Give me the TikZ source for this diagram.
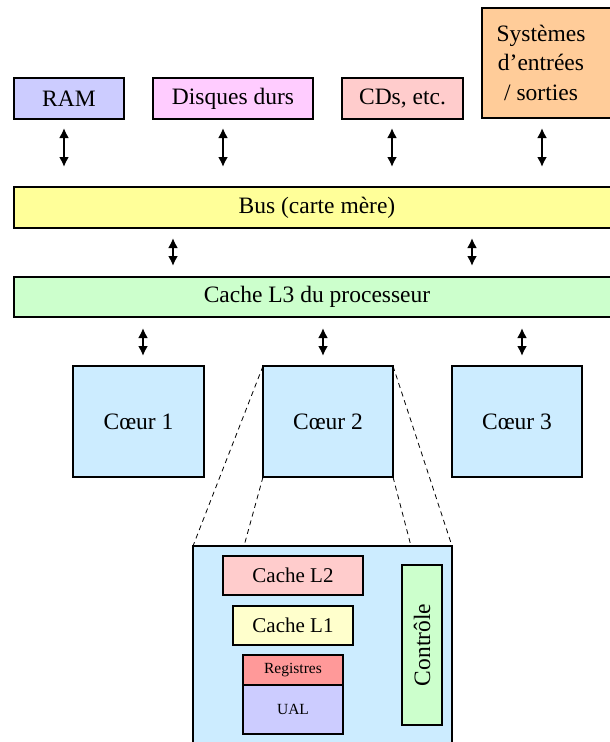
\documentclass[tikz,border=0pt]{standalone}
\usepackage{fontspec}
\setmainfont{Liberation Serif}
\usetikzlibrary{calc,shapes,arrows.meta}
\definecolor{RamBlue}{RGB}{204,204,255}
\definecolor{DiskPink}{RGB}{255,204,255}
\definecolor{CdRose}{RGB}{255,204,204}
\definecolor{IoOrange}{RGB}{255,204,153}
\definecolor{BusYellow}{RGB}{255,255,153}
\definecolor{CacheGreen}{RGB}{204,255,204}
\definecolor{CoreBlue}{RGB}{204,236,255}
\definecolor{LOneYellow}{RGB}{255,255,204}
\definecolor{RegRed}{RGB}{255,153,153}

\begin{document}
\begin{tikzpicture}[x=1pt,y=-1pt]
				\tikzstyle{box} = [rectangle, draw=black, line width=1.8pt, inner sep=0pt, outer sep=0pt, text centered, font=\fontsize{23.5}{29.5}\selectfont]
				\tikzstyle{cachebox} = [box, minimum height=39pt, font=\fontsize{21}{25}\selectfont]
				\tikzstyle{small} = [font=\fontsize{15.5}{18}\selectfont]
				\tikzstyle{arrow} = [line width=2pt, <->, >={Latex[length=10pt,width=10pt]}]
				\tikzstyle{zoomline} = [line width=0.8pt, dash pattern=on 5pt off 4pt]
				
				\useasboundingbox (0,0) rectangle (610,742);
				\node (ram) [box, fill=RamBlue, minimum width=110pt, minimum height=41pt] at (69,98.5) {RAM};
				\node (disks) [box, fill=DiskPink, minimum width=160pt, minimum height=41pt] at (233,98.5) {Disques durs};
				\node (cds) [box, fill=CdRose, minimum width=121pt, minimum height=41pt] at (402.5,98.5) {CDs, etc.};
				\node (io) [box, fill=IoOrange, minimum width=145pt, minimum height=110pt] at (554.5,63) {};
				\node (iotext) [box, draw=none, align=center] at (541,62.5) {Systèmes\\d’entrées\\/ sorties};
				\node (bus) [box, fill=BusYellow, minimum width=606pt, minimum height=41pt] at (317,207.5) {Bus (carte mère)};
				\node (cache) [box, fill=CacheGreen, minimum width=606pt, minimum height=40pt] at (317,297) {Cache L3 du processeur};
				\node (core1) [box, fill=CoreBlue, minimum width=131pt, minimum height=111pt] at (138.5,421.5) {Cœur 1};
				\node (core2) [box, fill=CoreBlue, minimum width=130pt, minimum height=111pt] at (328,421.5) {Cœur 2};
				\node (core3) [box, fill=CoreBlue, minimum width=130pt, minimum height=111pt] at (517,421.5) {Cœur 3};
				\node (core2zoom) [box, fill=CoreBlue, minimum width=259pt, minimum height=206pt] at (322.5,649) {};
				\node (cachetwo) [cachebox, fill=CdRose, minimum width=140pt] at (293,575.5) {Cache L2};
				\node (cacheone) [cachebox, fill=LOneYellow, minimum width=120pt] at (293,625.5) {Cache L1};
				\node (regs) [box, small, fill=RegRed, minimum width=100pt, minimum height=30pt] at (293,670) {Registres};
				\node (alu) [box, small, fill=RamBlue, minimum width=100pt, minimum height=49pt] at (293,709.5) {UAL};
				\node (ctrl) [box, fill=CacheGreen, rotate=90, minimum width=160pt, minimum height=40pt] at (422,645) {Contrôle};
				\draw [arrow, shorten <=9pt, shorten >=20pt] ([xshift=-5pt]ram.south) -- ([xshift=-5pt]ram.south |- bus.north);
				\draw [arrow, shorten <=9pt, shorten >=20pt] ([xshift=-10pt]disks.south) -- ([xshift=-10pt]disks.south |- bus.north);
				\draw [arrow, shorten <=9pt, shorten >=20pt] ([xshift=-10.5pt]cds.south) -- ([xshift=-10.5pt]cds.south |- bus.north);
				\draw [arrow, shorten <=10pt, shorten >=20pt] ([xshift=-12.5pt]io.south) -- ([xshift=-12.5pt]io.south |- bus.north);
				\draw [arrow, shorten <=10pt, shorten >=11pt] ([xshift=-144pt]bus.south) -- ([xshift=-144pt]cache.north);
				\draw [arrow, shorten <=10pt, shorten >=11pt] ([xshift=155pt]bus.south) -- ([xshift=155pt]cache.north);
				\draw [arrow, shorten <=11pt, shorten >=10pt] ([xshift=4.5pt]core1.north |- cache.south) -- ([xshift=4.5pt]core1.north);
				\draw [arrow, shorten <=11pt, shorten >=10pt] ([xshift=-5pt]core2.north |- cache.south) -- ([xshift=-5pt]core2.north);
				\draw [arrow, shorten <=11pt, shorten >=10pt] ([xshift=5pt]core3.north |- cache.south) -- ([xshift=5pt]core3.north);
				\draw [zoomline] (core2.north west) -- (core2zoom.north west);
				\draw [zoomline] (core2.south west) -- ([xshift=51pt]core2zoom.north west);
				\draw [zoomline] (core2.south east) -- ([xshift=-41pt]core2zoom.north east);
				\draw [zoomline] (core2.north east) -- (core2zoom.north east);
\end{tikzpicture}
\end{document}
